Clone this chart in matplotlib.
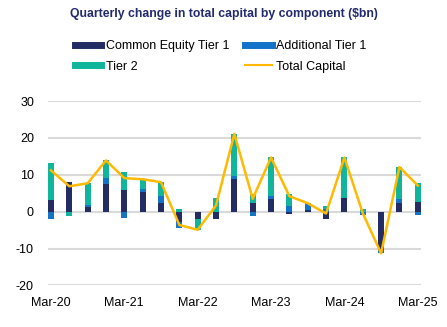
import numpy as np
import matplotlib
matplotlib.use("Agg")
import matplotlib.pyplot as plt
from matplotlib.lines import Line2D

plt.rcParams['font.family'] = ['Liberation Sans', 'DejaVu Sans']
plt.rcParams['axes.unicode_minus'] = False

# Quarterly changes ($bn), Mar-20 .. Mar-25
quarters = ['Mar-20', 'Jun-20', 'Sep-20', 'Dec-20',
            'Mar-21', 'Jun-21', 'Sep-21', 'Dec-21',
            'Mar-22', 'Jun-22', 'Sep-22', 'Dec-22',
            'Mar-23', 'Jun-23', 'Sep-23', 'Dec-23',
            'Mar-24', 'Jun-24', 'Sep-24', 'Dec-24',
            'Mar-25']
cet1 = [3.2, 8.0, 1.4, 7.4, 5.9, 5.3, 2.3, -2.7, -2.1, -2.1, 8.8,
        2.3, 3.5, -0.5, 0.5, -2.1, 3.8, 0.0, -10.3, 2.3, 2.6]
at1 = [-2.0, 0.0, 0.3, 1.7, -1.6, 0.9, 2.0, -1.6, 0.0, 0.0, 1.0,
       -1.3, 0.8, 1.5, 1.8, 0.6, 0.0, -1.0, -1.0, 1.1, -0.8]
tier2 = [10.0, -1.1, 6.0, 4.8, 4.8, 2.6, 3.7, 0.7, -2.8, 3.8, 11.3,
         2.5, 10.4, 3.2, 0.0, 1.0, 10.9, 0.6, 0.0, 8.7, 5.3]
total = list(np.array(cet1) + np.array(at1) + np.array(tier2))

series = [('Common Equity Tier 1', cet1, '#232d64'),
          ('Additional Tier 1', at1, '#1273c9'),
          ('Tier 2', tier2, '#10b59c')]
line_color = '#ffb900'

fig = plt.figure(figsize=(4.47, 3.27), dpi=100)
ax = fig.add_axes([0.107, 0.127, 0.835, 0.564])

# stack positives upward and negatives downward, in series order
x = np.arange(len(quarters))
pos_base = np.zeros(len(x))
neg_base = np.zeros(len(x))
for name, vals, col in series:
    v = np.array(vals)
    bottom = np.where(v >= 0, pos_base, neg_base)
    ax.bar(x, v, bottom=bottom, width=0.33, color=col, zorder=2)
    pos_base += np.where(v >= 0, v, 0)
    neg_base += np.where(v < 0, v, 0)

ax.plot(x, total, color=line_color, lw=1.8, zorder=3)

ax.set_ylim(-20, 30)
ax.set_yticks([-20, -10, 0, 10, 20, 30])
ax.set_xlim(-0.17, 20.18)
ax.set_xticks(x[::4])
ax.set_xticklabels(quarters[::4])
ax.grid(axis='y', color='#d9d9d9', lw=1.5, zorder=0)
for s in ax.spines.values():
    s.set_visible(False)
ax.tick_params(length=0, labelsize=9, colors='black')
ax.tick_params(axis='y', pad=10)
ax.tick_params(axis='x', pad=8)

fig.text(0.5, 0.958, 'Quarterly change in total capital by component ($bn)',
         ha='center', va='center', fontsize=8.8, fontweight='bold', color='#222a6e')

handles = [Line2D([], [], color=series[0][2], lw=5),
           Line2D([], [], color=series[2][2], lw=5),
           Line2D([], [], color=series[1][2], lw=5),
           Line2D([], [], color=line_color, lw=1.5)]
labels = [series[0][0], series[2][0], series[1][0], 'Total Capital']
fig.legend(handles, labels, ncol=2, loc='upper left', bbox_to_anchor=(0.168, 0.878),
           frameon=False, fontsize=9, handlelength=2.1, handletextpad=0.35,
           columnspacing=1.3, labelspacing=0.7, borderaxespad=0, borderpad=0)

fig.savefig('out.png', dpi=100)
